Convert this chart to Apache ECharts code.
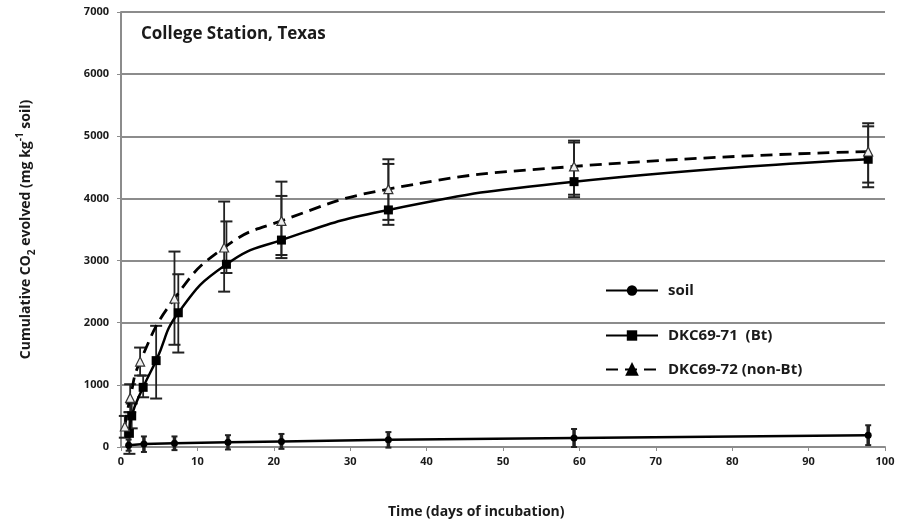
<!DOCTYPE html>
<html>
<head>
<meta charset="utf-8">
<script src="https://cdn.jsdelivr.net/npm/echarts@6/dist/echarts.min.js"></script>
<style>
  html, body { margin: 0; padding: 0; background: #fff; }
  #chart { width: 898px; height: 525px; }
</style>
</head>
<body>
<div id="chart"></div>
<script>
"use strict";

// valores (dias, mg CO2 / kg suelo)
var xTicks = [0, 10, 20, 30, 40, 50, 60, 70, 80, 90, 100];
var yTicks = [0, 1000, 2000, 3000, 4000, 5000, 6000, 7000];

var soilDays = [1, 3, 7, 14, 21, 35, 59.3, 97.8];
var soilValues = [30, 50, 60, 75, 90, 115, 145, 190];
var soilLow = [-60, -80, -50, -40, -30, -10, 0, 30];
var soilHigh = [120, 170, 170, 190, 210, 240, 290, 350];

var btDays = [1.1, 1.4, 2.9, 4.6, 7.5, 13.8, 21, 35, 59.3, 97.8];
var btValues = [220, 500, 960, 1390, 2160, 2940, 3330, 3815, 4270, 4630];
var btLow = [-110, 300, 800, 780, 1520, 2800, 3040, 3575, 4020, 4180];
var btHigh = [560, 700, 1150, 1950, 2780, 3630, 4040, 4555, 4900, 5160];

var nonBtDays = [0.5, 1.2, 2.5, 7, 13.5, 21, 35, 59.3, 97.8];
var nonBtValues = [330, 790, 1375, 2390, 3210, 3640, 4150, 4515, 4755];
var nonBtLow = [150, 560, 1150, 1645, 2500, 3090, 3655, 4060, 4255];
var nonBtHigh = [500, 1010, 1600, 3145, 3950, 4270, 4630, 4930, 5210];

var textColor = '#1a1a1a';
var gridColor = '#8c8c8c';
var font = '"Open Sans", sans-serif';

function pairs(xs, ys) {
    return xs.map(function (x, i) { return [x, ys[i]]; });
}

function bars(xs, lo, hi) {
    return xs.map(function (x, i) { return [x, lo[i], hi[i]]; });
}

// barras de error con tapas
function errorBar(capHalf, width) {
    return function (params, api) {
        var x = api.value(0);
        var top = api.coord([x, api.value(2)]);
        var bot = api.coord([x, api.value(1)]);
        var style = { stroke: '#222', lineWidth: width };
        return {
            type: 'group',
            children: [
                { type: 'line', shape: { x1: top[0], y1: top[1], x2: bot[0], y2: bot[1] }, style: style },
                { type: 'line', shape: { x1: top[0] - capHalf, y1: top[1], x2: top[0] + capHalf, y2: top[1] }, style: { stroke: '#222', lineWidth: 2 } },
                { type: 'line', shape: { x1: bot[0] - capHalf, y1: bot[1], x2: bot[0] + capHalf, y2: bot[1] }, style: { stroke: '#222', lineWidth: 2 } }
            ]
        };
    };
}

function legendBox(name, top) {
    return {
        data: [{ name: name, itemStyle: { color: '#000', borderColor: '#000' } }],
        left: 605,
        top: top,
        padding: 0,
        itemWidth: 52,
        itemHeight: 13,
        textStyle: {
            color: textColor,
            fontFamily: font,
            fontWeight: 'bold',
            fontSize: 15,
            padding: [0, 0, 0, 5]
        }
    };
}

var myChart = echarts.init(document.getElementById('chart'));

var option = {
    animation: false,
    backgroundColor: '#fff',
    grid: { left: 121, right: 13, top: 12, bottom: 78 },
    graphic: [
        {
            type: 'text',
            left: 141,
            top: 26,
            style: {
                text: 'College Station, Texas',
                fill: textColor,
                font: 'bold 17px ' + font
            }
        },
        {
            type: 'text',
            left: 388,
            top: 505,
            style: {
                text: 'Time (days of incubation)',
                fill: textColor,
                font: 'bold 14px ' + font
            }
        }
    ],
    legend: [
        legendBox('soil', 283),
        legendBox('DKC69-71  (Bt)', 328),
        legendBox('DKC69-72 (non-Bt)', 362)
    ],
    xAxis: {
        type: 'value',
        min: xTicks[0],
        max: xTicks[xTicks.length - 1],
        interval: 10,
        axisLine: { show: true, lineStyle: { color: gridColor, width: 2 } },
        axisTick: { show: true, length: 4, lineStyle: { color: gridColor } },
        splitLine: { show: false },
        axisLabel: {
            color: textColor,
            fontFamily: font,
            fontWeight: 'bold',
            fontSize: 11,
            margin: 9
        }
    },
    yAxis: {
        type: 'value',
        min: yTicks[0],
        max: yTicks[yTicks.length - 1],
        interval: 1000,
        name: 'Cumulative CO{sub|2} evolved (mg kg{sup|-1} soil)',
        nameLocation: 'middle',
        nameRotate: 90,
        nameGap: 84,
        nameTextStyle: {
            color: textColor,
            fontFamily: font,
            fontWeight: 'bold',
            fontSize: 14,
            lineHeight: 22,
            rich: {
                sub: { fontSize: 10, lineHeight: 10, verticalAlign: 'bottom', fontWeight: 'bold', fontFamily: font, color: textColor },
                sup: { fontSize: 10, lineHeight: 10, verticalAlign: 'top', fontWeight: 'bold', fontFamily: font, color: textColor }
            }
        },
        axisLine: { show: true, lineStyle: { color: gridColor, width: 2 } },
        axisTick: { show: true, length: 4, lineStyle: { color: gridColor } },
        splitLine: { show: true, lineStyle: { color: gridColor, width: 2 } },
        axisLabel: {
            color: textColor,
            fontFamily: font,
            fontWeight: 'bold',
            fontSize: 11,
            margin: 12,
            formatter: function (v) { return String(v); }
        }
    },
    series: [
        {
            type: 'custom',
            z: 1,
            renderItem: errorBar(3, 3.5),
            data: bars(soilDays, soilLow, soilHigh),
            silent: true
        },
        {
            type: 'custom',
            z: 1,
            renderItem: errorBar(6, 1.8),
            data: bars(btDays, btLow, btHigh),
            silent: true
        },
        {
            type: 'custom',
            z: 1,
            renderItem: errorBar(6, 1.8),
            data: bars(nonBtDays, nonBtLow, nonBtHigh),
            silent: true
        },
        {
            name: 'soil',
            type: 'line',
            z: 3,
            data: pairs(soilDays, soilValues),
            symbol: 'circle',
            symbolSize: 7,
            itemStyle: { color: '#000' },
            lineStyle: { color: '#000', width: 2.5 }
        },
        {
            name: 'DKC69-71  (Bt)',
            type: 'line',
            z: 3,
            data: pairs(btDays, btValues),
            smooth: 0.5,
            symbol: 'rect',
            symbolSize: 9,
            itemStyle: { color: '#000' },
            lineStyle: { color: '#000', width: 2.5 }
        },
        {
            name: 'DKC69-72 (non-Bt)',
            type: 'line',
            z: 3,
            data: pairs(nonBtDays, nonBtValues),
            smooth: 0.5,
            symbol: 'triangle',
            symbolSize: 9,
            itemStyle: { color: '#eee', borderColor: '#333', borderWidth: 1.2 },
            lineStyle: { color: '#000', width: 2.8, type: [12, 7] }
        }
    ]
};

myChart.setOption(option);
</script>
</body>
</html>
